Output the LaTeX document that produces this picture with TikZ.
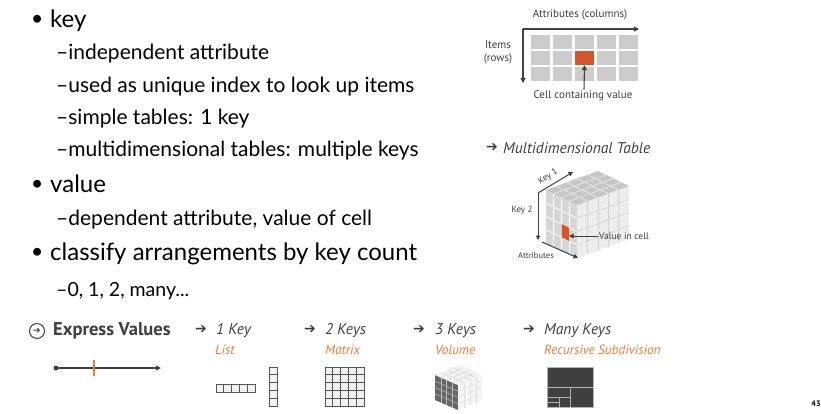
\documentclass[tikz,border=0pt]{standalone}
\usepackage{fontspec}
\setmainfont{Lato}
\newfontfamily\figf{PT Sans}
\newfontfamily\dejavu{DejaVu Sans}
\usetikzlibrary{arrows.meta}
\definecolor{orng}{HTML}{D4552B}
\definecolor{orngtxt}{HTML}{F07A32}
\definecolor{dgrey}{HTML}{404040}
\definecolor{cellg}{HTML}{CCCCCC}
\definecolor{lgrid}{HTML}{555555}
\definecolor{lfill}{HTML}{F2F2F2}
\tikzset{
  mainitem/.style={anchor=base west, inner sep=0pt, font=\fontsize{24}{27}\selectfont},
  subitem/.style={anchor=base west, inner sep=0pt, font=\fontsize{21}{24}\selectfont},
  bul/.style={anchor=base west, inner sep=0pt, font=\fontsize{21}{24}\selectfont},
  lbl/.style={inner sep=0pt, text=dgrey, font=\figf\fontsize{11}{13}\selectfont},
  smalllbl/.style={inner sep=0pt, text=dgrey, font=\figf\fontsize{9}{10}\selectfont},
  keylbl/.style={anchor=west, inner sep=0pt, text=dgrey, font=\figf\itshape\fontsize{15.5}{17}\selectfont},
  orlbl/.style={anchor=west, inner sep=0pt, text=orngtxt, font=\figf\itshape\fontsize{13.3}{15}\selectfont},
  harrow/.style={anchor=west, inner sep=0pt, text=dgrey, font=\dejavu\fontsize{14}{15}\selectfont},
  ax/.style={draw=dgrey, line width=1.1pt, -{Triangle[length=5pt,width=5pt]}},
  axs/.style={draw=dgrey, line width=1pt, -{Triangle[length=4.5pt,width=4.5pt]}},
  cellbox/.style={fill=cellg, inner sep=0pt, minimum width=19pt, minimum height=14pt},
  lcell/.style={draw=lgrid, fill=lfill, line width=0.8pt, inner sep=0pt, minimum size=7.8pt},
}
\begin{document}
\begin{tikzpicture}[x=1pt,y=-1pt]
\useasboundingbox[fill=white] (0,0) rectangle (821,413);

% ---------- left text ----------
\node[bul] (b1) at (31,25) {•};
\node[mainitem] (t1) at (50,27) {key};
\node[subitem] (s1) at (56,59) {–independent attribute};
\node[subitem] (s2) at (56,92) {–used as unique index to look up items};
\node[subitem] (s3) at (56,124) {–simple tables: 1 key};
\node[subitem] (s4) at (56,156) {–multidimensional tables: multiple keys};
\node[bul] (b2) at (31,190) {•};
\node[mainitem] (t2) at (50,192) {value};
\node[subitem] (s5) at (56,225) {–dependent attribute, value of cell};
\node[bul] (b3) at (31,258) {•};
\node[mainitem] (t3) at (50,260) {classify arrangements by key count};
\node[subitem, font=\fontsize{19.5}{22}\selectfont] (s6) at (56,296) {–0, 1, 2, many...};

% ---------- table (top right) ----------
\foreach \c in {0,...,4} \foreach \r in {0,...,2}
  \node[cellbox] (c\c\r) at ({540.5+\c*22},{42+\r*16}) {};
\node[cellbox, fill=orng] (cv) at (c21) {};
\coordinate (o) at (523,29);
\coordinate (axr) at (639,29);
\coordinate (axd) at (523,83);
\draw[ax] (o) -- (axr);
\draw[ax] (o) -- (axd);
\node[lbl] (attc) at (580,15) {Attributes (columns)};
\node[lbl, align=center] (items) at (498,52) {Items\\(rows)};
\node[lbl] (cellval) at (583,96) {Cell containing value};
\draw[ax] (cellval.north) ++(1,-1) -- (cv.south);

% ---------- multidimensional table ----------
\node[harrow] (ma) at (486,148) {➔};
\node[keylbl] (mt) at (503,148) {Multidimensional Table};

% left face
\begin{scope}[shift={(546,190)}, x={(7.75pt,-3.75pt)}, y={(0pt,-13.25pt)}]
  \fill[gray!32] (0,0) -- (4,0) -- (4,4) -- (0,4) -- cycle;
  \foreach \i in {1,2,3} \draw[white, line width=0.8pt] (\i,0) -- (\i,4);
  \foreach \j in {1,2,3} \draw[white, line width=0.8pt] (0,\j) -- (4,\j);
  \fill[orng] (2,2) -- (3,2) -- (3,3) -- (2,3) -- cycle;
\end{scope}
% right face
\begin{scope}[shift={(577,205)}, x={(10.4pt,3.8pt)}, y={(0pt,-13.25pt)}]
  \fill[gray!14] (0,0) -- (5,0) -- (5,4) -- (0,4) -- cycle;
  \foreach \i in {1,...,4} \draw[gray!35, line width=0.6pt] (\i,0) -- (\i,4);
  \foreach \j in {1,2,3} \draw[gray!35, line width=0.6pt] (0,\j) -- (5,\j);
\end{scope}
% top face
\begin{scope}[shift={(546,190)}, x={(7.75pt,-3.75pt)}, y={(10.4pt,3.8pt)}]
  \fill[gray!45] (0,0) -- (4,0) -- (4,5) -- (0,5) -- cycle;
  \foreach \i in {1,2,3} \draw[gray!20, line width=0.8pt] (\i,0) -- (\i,5);
  \foreach \j in {1,...,4} \draw[gray!20, line width=0.8pt] (0,\j) -- (4,\j);
\end{scope}
\coordinate (k0) at (538,193);
\coordinate (k1) at (573,172);
\coordinate (k2) at (538,240);
\coordinate (at0) at (542,242);
\coordinate (at1) at (578,258);
\coordinate (ocell) at (569,236);
\draw[axs] (k0) -- (k1);
\draw[axs] (k0) -- (k2);
\draw[axs] (at0) -- (at1);
\node[smalllbl, rotate=32] (key1) at (548,177) {Key 1};
\node[smalllbl] (key2) at (522,210) {Key 2};
\node[smalllbl, font=\figf\fontsize{8.5}{10}\selectfont] (attr) at (536,256) {Attributes};
\node[smalllbl, anchor=west, font=\figf\fontsize{9.5}{10}\selectfont] (vic) at (599,236) {Value in cell};
\draw[axs] (vic.west) ++(-1,0) -- (ocell);

% ---------- bottom row ----------
\node[circle, draw=dgrey, line width=1pt, minimum size=15pt, inner sep=0pt, text=dgrey,
      font=\dejavu\fontsize{9}{9}\selectfont] (ic) at (37,331) {➔};
\node[anchor=west, inner sep=0pt, text=dgrey, font=\figf\bfseries\fontsize{18.5}{20}\selectfont] (ev) at (53,331) {Express Values};
\node[circle, fill=dgrey, inner sep=0pt, minimum size=5pt] (dot) at (56,368) {};
\coordinate (lend) at (161,368);
\draw[ax] (dot.center) -- (lend);
\coordinate (tk1) at (94,360);
\coordinate (tk2) at (94,376);
\draw[orngtxt, line width=1.3pt] (tk1) -- (tk2);

\node[harrow] (a1) at (195,330) {➔};
\node[keylbl] (k1l) at (216,331) {1 Key};
\node[orlbl] (list) at (215,350) {List};
\node[harrow] (a2) at (304,330) {➔};
\node[keylbl] (k2l) at (325,331) {2 Keys};
\node[orlbl] (matrix) at (325,350) {Matrix};
\node[harrow] (a3) at (413,330) {➔};
\node[keylbl] (k3l) at (435,331) {3 Keys};
\node[orlbl] (volume) at (435,350) {Volume};
\node[harrow] (a4) at (523,330) {➔};
\node[keylbl] (k4l) at (544,331) {Many Keys};
\node[orlbl] (recsub) at (544,350) {Recursive Subdivision};

% list cells
\foreach \i in {0,...,4} \node[lcell] (lh\i) at ({219.9+\i*7.8},388) {};
\foreach \j in {0,...,4} \node[lcell] (lv\j) at (273,{370.9+\j*7.8}) {};
% matrix
\foreach \i in {0,...,4} \foreach \j in {0,...,4}
  \node[lcell] (m\i\j) at ({328.9+\i*7.8},{370.9+\j*7.8}) {};

% volume cube
\begin{scope}[shift={(435,375)}, x={(5.75pt,-2.5pt)}, y={(0pt,-6.25pt)}]
  \fill[gray!80!black] (0,0) -- (4,0) -- (4,4) -- (0,4) -- cycle;
  \foreach \i in {1,2,3} \draw[gray!55, line width=0.5pt] (\i,0) -- (\i,4);
  \foreach \j in {1,2,3} \draw[gray!55, line width=0.5pt] (0,\j) -- (4,\j);
\end{scope}
\begin{scope}[shift={(458,385)}, x={(6pt,2.5pt)}, y={(0pt,-6.25pt)}]
  \fill[gray!8] (0,0) -- (4,0) -- (4,4) -- (0,4) -- cycle;
  \foreach \i in {1,2,3} \draw[gray!25, line width=0.4pt] (\i,0) -- (\i,4);
  \foreach \j in {1,2,3} \draw[gray!25, line width=0.4pt] (0,\j) -- (4,\j);
\end{scope}
\begin{scope}[shift={(435,375)}, x={(5.75pt,-2.5pt)}, y={(6pt,2.5pt)}]
  \fill[gray!10] (0,0) -- (4,0) -- (4,4) -- (0,4) -- cycle;
  \foreach \i in {1,2,3} \draw[gray!30, line width=0.5pt] (\i,0) -- (\i,4);
  \foreach \j in {1,2,3} \draw[gray!30, line width=0.5pt] (0,\j) -- (4,\j);
\end{scope}

% treemap
\fill[dgrey] (547,367) rectangle (593,407);
\draw[gray!60, line width=0.8pt] (547,367) rectangle (593,407);
\draw[gray!60, line width=0.8pt] (547,387.5) -- (593,387.5);
\draw[gray!60, line width=0.8pt] (570.5,387.5) -- (570.5,407);
\draw[gray!60, line width=0.8pt] (547,397) -- (570.5,397);
\draw[gray!60, line width=0.8pt] (559,397) -- (559,407);
\draw[gray!60, line width=0.8pt] (547,402) -- (559,402);

\node[inner sep=0pt, text=black, font=\figf\bfseries\fontsize{8}{9}\selectfont] (pg) at (816,404) {43};
\end{tikzpicture}
\end{document}
